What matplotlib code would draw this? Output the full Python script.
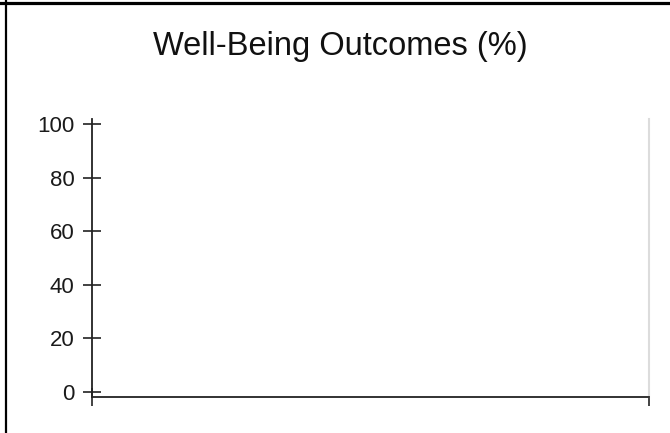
import matplotlib
matplotlib.use("Agg")
import matplotlib.pyplot as plt
from matplotlib.lines import Line2D

plt.rcParams['font.family'] = ['Liberation Sans', 'DejaVu Sans']

# chart content (no data series are drawn in the reference)
title = "Well-Being Outcomes (%)"
y_ticks = [0, 20, 40, 60, 80, 100]
y_tick_labels = ["0", "20", "40", "60", "80", "100"]
x_ticks = [0, 1]

W, H = 670, 433
fig = plt.figure(figsize=(W / 100, H / 100), dpi=100)

# plot area in pixel coords
left, right, top, bottom = 92, 649, 119, 397
ax = fig.add_axes([left / W, 1 - bottom / H, (right - left) / W, (bottom - top) / H])

ax.set_xlim(0, 1)
ax.set_ylim(-1.87, 101.9)
ax.set_yticks(y_ticks)
ax.set_yticklabels(y_tick_labels)
ax.set_xticks(x_ticks)
ax.set_xticklabels([])

ax.spines['top'].set_visible(False)
ax.spines['right'].set_color('#dcdcdc')
ax.spines['right'].set_linewidth(1.5)
ax.spines['left'].set_color('#222222')
ax.spines['bottom'].set_color('#222222')
ax.spines['left'].set_linewidth(1.3)
ax.spines['bottom'].set_linewidth(1.3)

ax.tick_params(axis='both', direction='inout', length=13, width=1.2, color='#222222')
ax.tick_params(axis='y', labelsize=16, labelcolor='#1a1a1a', pad=6)

fig.text(0.508, 1 - 55 / H, title, ha='center', va='baseline', fontsize=23.5, color='#111111')

# outer frame (top and left edges)
fig.add_artist(Line2D([0, 1], [1 - 2.5 / H, 1 - 2.5 / H], transform=fig.transFigure, color='black', lw=2.3))
fig.add_artist(Line2D([6 / W, 6 / W], [0, 1], transform=fig.transFigure, color='black', lw=1.6))

fig.savefig('out.png', dpi=100)
